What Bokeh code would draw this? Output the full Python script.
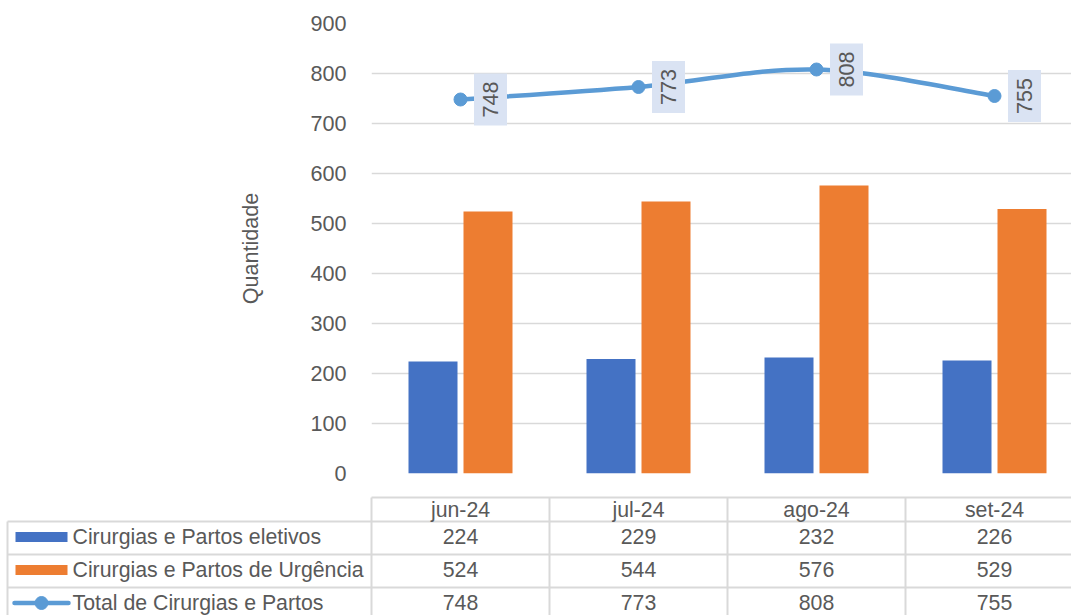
import numpy as np
from bokeh.plotting import figure
from bokeh.models import Range1d, FixedTicker
from bokeh.embed import file_html
from bokeh.resources import INLINE
from bokeh.core.properties import value

# ---------------- data ----------------
categories = ["jun-24", "jul-24", "ago-24", "set-24"]
eletivos = [224, 229, 232, 226]
urgencia = [524, 544, 576, 529]
total = [748, 773, 808, 755]
y_ticks = [0, 100, 200, 300, 400, 500, 600, 700, 800, 900]
series_names = ["Cirurgias e Partos eletivos",
                "Cirurgias e Partos de Urgência",
                "Total de Cirurgias e Partos"]
y_label = "Quantidade"

# ---------------- style ----------------
FONT = "Liberation Sans"
FS = "21.6px"
FS_T = "21.3px"
TXT = "#595959"
GRID = "#D9D9D9"
BLUE = "#4472C4"
ORANGE = "#ED7D31"
LINE = "#5B9BD5"
LABEL_BG = "#DAE3F3"

W = 1071            # canvas width
CAT_PX = 178        # pixels per category
PLOT_LEFT = 371     # frame left (canvas px)
PX = 1.0 / CAT_PX   # one pixel in category units
n = len(categories)
x_end = (W - PLOT_LEFT) / CAT_PX
xs = np.arange(n) + 0.5

# ---------------- main chart ----------------
p = figure(width=W, height=488, output_backend="svg", toolbar_location=None,
           x_range=Range1d(0, x_end), y_range=Range1d(0, 900),
           min_border_left=PLOT_LEFT, min_border_right=0,
           min_border_top=23, min_border_bottom=15)
p.outline_line_color = None
p.background_fill_color = "white"
p.border_fill_color = "white"
p.xaxis.visible = False
p.xgrid.visible = False
p.ygrid.grid_line_color = GRID
p.ygrid.grid_line_width = 1.5
ya = p.yaxis[0]
ya.ticker = FixedTicker(ticks=y_ticks)
ya.axis_line_color = None
ya.major_tick_line_color = None
ya.minor_tick_line_color = None
ya.major_label_standoff = 19
ya.major_label_text_font = FONT
ya.major_label_text_font_size = FS
ya.major_label_text_color = TXT
ya.axis_label = y_label
ya.axis_label_text_font = FONT
ya.axis_label_text_font_size = FS
ya.axis_label_text_font_style = "normal"
ya.axis_label_text_color = TXT
ya.axis_label_standoff = 44

bar_w = 49 * PX
off = 27.5 * PX
p.vbar(x=xs - off, top=eletivos, width=bar_w, fill_color=BLUE, line_color=None)
p.vbar(x=xs + off, top=urgencia, width=bar_w, fill_color=ORANGE, line_color=None)

# smoothed line (Catmull-Rom style bezier through the data points)
tx = list(xs)
ty = [float(v) for v in total]
x0, y0, x1, y1, cx0, cy0, cx1, cy1 = [], [], [], [], [], [], [], []
for i in range(n - 1):
    a = max(i - 1, 0)
    d = min(i + 2, n - 1)
    x0.append(tx[i]); y0.append(ty[i])
    x1.append(tx[i + 1]); y1.append(ty[i + 1])
    cx0.append(tx[i] + (tx[i + 1] - tx[a]) / 6.0)
    cy0.append(ty[i] + (ty[i + 1] - ty[a]) / 6.0)
    cx1.append(tx[i + 1] - (tx[d] - tx[i]) / 6.0)
    cy1.append(ty[i + 1] - (ty[d] - ty[i]) / 6.0)
p.bezier(x0=x0, y0=y0, x1=x1, y1=y1, cx0=cx0, cy0=cy0, cx1=cx1, cy1=cy1,
         line_color=LINE, line_width=4.5, line_cap="round")
p.scatter(x=xs, y=total, size=13, fill_color=LINE, line_color=LINE)

# data labels
lx = xs + 30 * PX
p.rect(x=lx, y=total, width=33, height=52, width_units="screen",
       height_units="screen", fill_color=LABEL_BG, line_color=None)
p.text(x=lx, y=total, text=[str(v) for v in total], angle=np.pi / 2,
       text_align="center", text_baseline="middle", text_font=value(FONT),
       text_font_size=FS, text_color=TXT)

# ---------------- data table ----------------
TH = 127
t = figure(width=W, height=TH, output_backend="svg", toolbar_location=None,
           x_range=Range1d(-PLOT_LEFT * PX, x_end), y_range=Range1d(TH, 0),
           min_border=0)
t.outline_line_color = None
t.axis.visible = False
t.grid.visible = False
t.background_fill_color = "white"
t.border_fill_color = "white"

head_top, head_bot, row_h = 9, 33, 33
left_x = -PLOT_LEFT * PX + 7 * PX
right_x = x_end + 1
row_bounds = [head_bot + k * row_h for k in range(len(series_names) + 1)]

# horizontal lines
t.segment(x0=[0], y0=[head_top], x1=[right_x], y1=[head_top],
          line_color=GRID, line_width=2)
t.segment(x0=[left_x] * len(row_bounds), y0=row_bounds,
          x1=[right_x] * len(row_bounds), y1=row_bounds,
          line_color=GRID, line_width=2)
# vertical lines
vx = list(range(n + 1))
t.segment(x0=vx, y0=[head_top] * len(vx), x1=vx, y1=[row_bounds[-1]] * len(vx),
          line_color=GRID, line_width=2)
t.segment(x0=[left_x], y0=[head_bot], x1=[left_x], y1=[row_bounds[-1]],
          line_color=GRID, line_width=2)

# header
t.text(x=xs, y=[(head_top + head_bot) / 2] * n, text=categories,
       text_align="center", text_baseline="middle", text_font=value(FONT),
       text_font_size=FS_T, text_color=TXT)

# rows
row_c = [head_bot + row_h * (k + 0.5) for k in range(len(series_names))]
for k, vals in enumerate([eletivos, urgencia, total]):
    t.text(x=xs, y=[row_c[k]] * n, text=[str(v) for v in vals],
           text_align="center", text_baseline="middle", text_font=value(FONT),
           text_font_size=FS_T, text_color=TXT, y_offset=-1.5)

def cx(canvas_px):
    return (canvas_px - PLOT_LEFT) * PX

t.text(x=[cx(72)] * 3, y=row_c, text=series_names, text_align="left",
       text_baseline="middle", text_font=value(FONT), text_font_size=FS_T,
       text_color=TXT, y_offset=-1.5)
# legend keys
t.rect(x=[cx(41)] * 2, y=[c - 1 for c in row_c[:2]], width=52 * PX, height=10,
       fill_color=[BLUE, ORANGE], line_color=None)
t.segment(x0=[cx(14)], y0=[row_c[2] - 1], x1=[cx(68)], y1=[row_c[2] - 1],
          line_color=LINE, line_width=4.5, line_cap="round")
t.scatter(x=[cx(41)], y=[row_c[2] - 1], size=13, fill_color=LINE, line_color=LINE)

open("out.html", "w").write(file_html([p, t], INLINE))
